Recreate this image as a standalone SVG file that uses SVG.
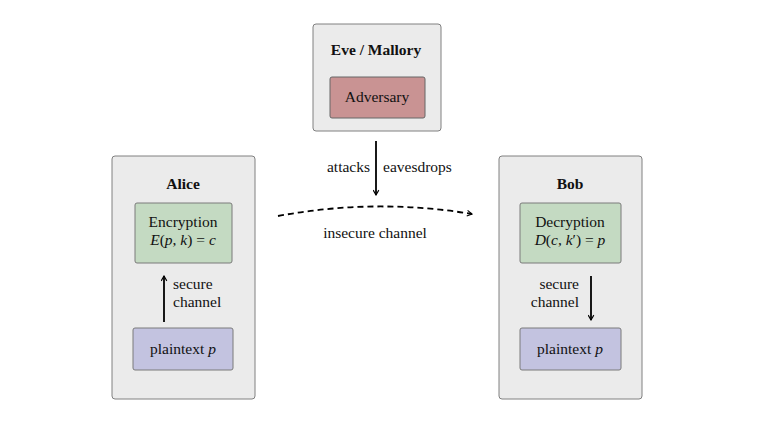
<svg xmlns="http://www.w3.org/2000/svg" width="759" height="428" viewBox="0 0 759 428">
<style>
text{font-family:"Liberation Serif","DejaVu Serif",serif;font-size:15.5px;fill:#111}
.t{font-weight:bold;text-anchor:middle}
.c{text-anchor:middle}
.m{font-style:italic}
.outer{fill:#ebebeb;stroke:#808080;stroke-width:1}
.green{fill:#c4dac2;stroke:#7a7a7a;stroke-width:1}
.red{fill:#c99393;stroke:#666;stroke-width:1}
.blue{fill:#c3c3e0;stroke:#7a7a7a;stroke-width:1}
.arr{stroke:#000;stroke-width:1.8;fill:none;marker-end:url(#ah)}
</style>
<defs>
<marker id="ah" viewBox="0 0 10 10" refX="8" refY="5" markerWidth="7" markerHeight="7" markerUnits="userSpaceOnUse" orient="auto">
<path d="M1,1 L8,5 L1,9" fill="none" stroke="#000" stroke-width="1.6"/>
</marker>
</defs>
<rect width="759" height="428" fill="#fff"/>
<g id="eve">
<rect class="outer" x="313" y="24" width="128" height="107" rx="3"/>
<text class="t" x="376" y="55">Eve / Mallory</text>
<g id="adversary">
<rect class="red" x="330" y="77" width="95" height="41" rx="2"/>
<text class="c" x="377" y="102">Adversary</text>
</g>
</g>
<g id="alice">
<rect class="outer" x="112" y="156" width="143" height="243" rx="3"/>
<text class="t" x="183" y="189">Alice</text>
<g id="encryption">
<rect class="green" x="135" y="203" width="97" height="60" rx="2"/>
<text class="c" x="183" y="227">Encryption</text>
<text class="c" x="183" y="245"><tspan class="m">E</tspan>(<tspan class="m">p</tspan>, <tspan class="m">k</tspan>) = <tspan class="m">c</tspan></text>
</g>
<g id="alice-plain">
<rect class="blue" x="133" y="328" width="100" height="42" rx="2"/>
<text class="c" x="183" y="354">plaintext <tspan class="m">p</tspan></text>
</g>
</g>
<g id="bob">
<rect class="outer" x="499" y="156" width="143" height="243" rx="3"/>
<text class="t" x="570" y="189">Bob</text>
<g id="decryption">
<rect class="green" x="520" y="203" width="101" height="60" rx="2"/>
<text class="c" x="570" y="227">Decryption</text>
<text class="c" x="570" y="245"><tspan class="m">D</tspan>(<tspan class="m">c</tspan>, <tspan class="m">k</tspan>′) = <tspan class="m">p</tspan></text>
</g>
<g id="bob-plain">
<rect class="blue" x="520" y="328" width="101" height="42" rx="2"/>
<text class="c" x="570" y="354">plaintext <tspan class="m">p</tspan></text>
</g>
</g>
<g id="connectors">
<line class="arr" x1="164" y1="322" x2="164" y2="276"/>
<text x="173" y="289">secure</text>
<text x="173" y="307">channel</text>
<line class="arr" x1="591" y1="276" x2="591" y2="320"/>
<text x="579" y="289" text-anchor="end">secure</text>
<text x="579" y="307" text-anchor="end">channel</text>
<line class="arr" x1="376" y1="141" x2="376" y2="195"/>
<text x="370" y="172" text-anchor="end">attacks</text>
<text x="383" y="172">eavesdrops</text>
<path class="arr" d="M278,216 Q375,198 472,214" stroke-dasharray="6,4"/>
<text class="c" x="375" y="238">insecure channel</text>
</g>
</svg>
